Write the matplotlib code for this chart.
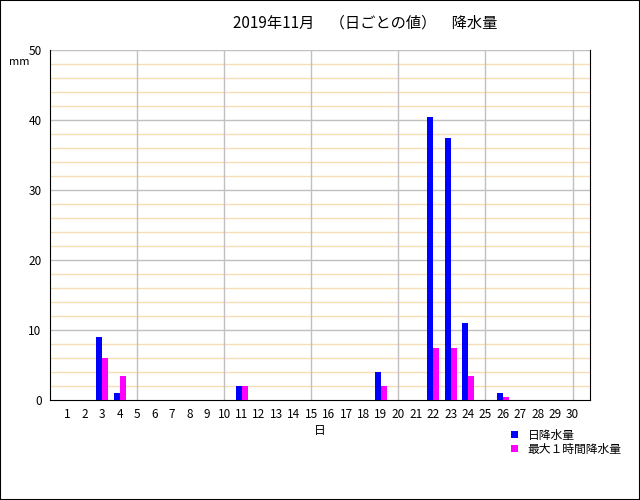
import matplotlib
matplotlib.use("Agg")
import matplotlib.pyplot as plt
import numpy as np

plt.rcParams['font.family'] = ['Noto Sans CJK JP', 'DejaVu Sans']

days = list(range(1, 31))
daily = [0,0,9.0,1.0,0,0,0,0,0,0,2.0,0,0,0,0,0,0,0,4.0,0,0,40.5,37.5,11.0,0,1.0,0,0,0,0]
hourly = [0,0,6.0,3.5,0,0,0,0,0,0,2.0,0,0,0,0,0,0,0,2.0,0,0,7.5,7.5,3.5,0,0.5,0,0,0,0]
title = "2019年11月　（日ごとの値）　降水量"

fig = plt.figure(figsize=(6.4, 5.0), dpi=100)
fig.patches.append(plt.Rectangle((0, 0), 1, 1, transform=fig.transFigure, fill=False, ec='black', lw=1.5))
ax = fig.add_axes([50/640, 0.2, 540/640, 0.7])
x = np.array(days)
w = 0.35
ax.bar(x - w/2, daily, w, color='#0000FF', label='日降水量', zorder=3)
ax.bar(x + w/2, hourly, w, color='#FF00FF', label='最大１時間降水量', zorder=3)
ax.set_xlim(0, 31)
ax.set_ylim(0, 50)
for y in np.arange(2, 50, 2):
    ax.axhline(y, color='#F5DEB3' if y % 10 else '#C0C0C0', lw=1, zorder=1)
ax.axhline(50, color='#C0C0C0', lw=1, zorder=1)
for d in range(5, 31, 5):
    ax.axvline(d, color='#C0C0C0', lw=1, zorder=1)
ax.set_xticks(days)
ax.set_xticklabels([str(d) for d in days], fontsize=8.5)
ax.set_yticks(range(0, 51, 10))
ax.tick_params(length=0, labelsize=8.5, pad=6)
ax.spines['top'].set_visible(False)
for s in ['left', 'bottom', 'right']:
    ax.spines[s].set_color('black')
ax.set_xlabel('日', fontsize=8.5, labelpad=2)
fig.text(9/640, 1 - 62/500, 'mm', fontsize=8, va='center')
fig.text(365/640, 1 - 23/500, title, fontsize=11, ha='center', va='center')
ax.legend(loc='upper left', bbox_to_anchor=(0.843, -0.065), frameon=False, fontsize=8.5,
          handlelength=0.6, handleheight=0.6, handletextpad=0.8, labelspacing=0.1, borderpad=0)
fig.savefig('out.png', dpi=100)
